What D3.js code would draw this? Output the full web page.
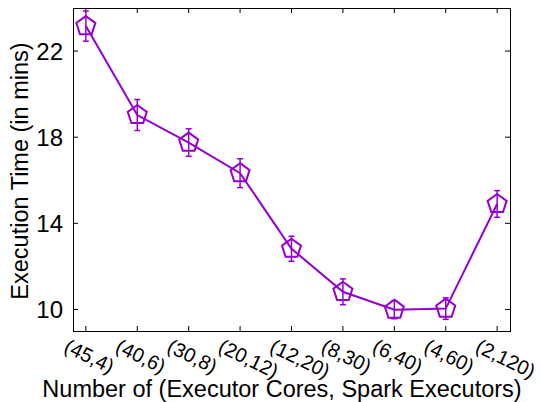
<!DOCTYPE html>
<html>
  <head>
    <meta charset="UTF-8" />
    <script src="https://cdn.jsdelivr.net/npm/d3@7"></script>
    <style>
      body { margin: 0; background: #fff; }
      text { font-family: "Liberation Sans", Arial, sans-serif; fill: #000; }
    </style>
  </head>
  <body>
    <script>
      // (executor cores, spark executors)
      var configs = ["(45,4)", "(40,6)", "(30,8)", "(20,12)", "(12,20)", "(8,30)", "(6,40)", "(4,60)", "(2,120)"];
      var execTime = [23.16, 19.03, 17.75, 16.33, 12.82, 10.82, 9.99, 10.04, 14.9];
      var errTime = [0.7, 0.72, 0.64, 0.67, 0.58, 0.6, 0.42, 0.5, 0.62];
      var yTicks = [10, 14, 18, 22];

      var W = 540, H = 402;
      var m = { left: 73, right: 30, top: 8, bottom: 71 };
      var color = "#9400D3";

      var svg = d3.select("body").append("svg").attr("width", W).attr("height", H);

      var x = d3.scaleLinear().domain([-0.25, 8.25]).range([m.left, W - m.right]);
      var y = d3.scaleLinear().domain([9, 24]).range([H - m.bottom, m.top]);

      var idx = configs.map(function (d, i) { return i; });

      // ticks, inward, mirrored
      var tl = 5;
      var g = svg.append("g").attr("stroke", "#000").attr("stroke-width", 1);
      idx.forEach(function (i) {
        g.append("line").attr("x1", x(i)).attr("x2", x(i)).attr("y1", y(9)).attr("y2", y(9) - tl);
        g.append("line").attr("x1", x(i)).attr("x2", x(i)).attr("y1", y(24)).attr("y2", y(24) + tl);
      });
      yTicks.forEach(function (v) {
        g.append("line").attr("x1", x(-0.25)).attr("x2", x(-0.25) + tl).attr("y1", y(v)).attr("y2", y(v));
        g.append("line").attr("x1", x(8.25)).attr("x2", x(8.25) - tl).attr("y1", y(v)).attr("y2", y(v));
      });

      svg.append("rect")
        .attr("x", x(-0.25) + 0.5).attr("y", y(24) + 0.5)
        .attr("width", x(8.25) - x(-0.25)).attr("height", y(9) - y(24))
        .attr("fill", "none").attr("stroke", "#000").attr("stroke-width", 1);

      // tick labels
      svg.selectAll(".ylab").data(yTicks).enter().append("text")
        .attr("x", m.left - 10).attr("y", function (d) { return y(d) + 8.5; })
        .attr("text-anchor", "end").attr("font-size", 24)
        .text(function (d) { return d; });

      svg.selectAll(".xlab").data(configs).enter().append("text")
        .attr("text-anchor", "start").attr("font-size", 20)
        .attr("transform", function (d, i) { return "translate(" + (x(i) - 23) + ",351) rotate(26)"; })
        .text(function (d) { return d; });

      svg.append("text")
        .attr("x", 282).attr("y", 397).attr("text-anchor", "middle").attr("font-size", 23.5)
        .text("Number of (Executor Cores, Spark Executors)");

      svg.append("text")
        .attr("transform", "translate(28,171) rotate(-90)")
        .attr("text-anchor", "middle").attr("font-size", 23.5)
        .text("Execution Time (in mins)");

      // error bars
      var eb = svg.append("g").attr("stroke", color).attr("stroke-width", 1.5);
      idx.forEach(function (i) {
        var lo = y(execTime[i] - errTime[i]), hi = y(execTime[i] + errTime[i]);
        eb.append("line").attr("x1", x(i)).attr("x2", x(i)).attr("y1", lo).attr("y2", hi);
        eb.append("line").attr("x1", x(i) - 3).attr("x2", x(i) + 3).attr("y1", lo).attr("y2", lo);
        eb.append("line").attr("x1", x(i) - 3).attr("x2", x(i) + 3).attr("y1", hi).attr("y2", hi);
      });

      var line = d3.line().x(function (d, i) { return x(i); }).y(function (d) { return y(d); });
      svg.append("path").datum(execTime).attr("d", line)
        .attr("fill", "none").attr("stroke", color).attr("stroke-width", 2);

      // open pentagons
      var r = 10;
      var pent = d3.range(5).map(function (k) {
        var a = -Math.PI / 2 + k * 2 * Math.PI / 5;
        return [r * Math.cos(a), r * Math.sin(a)];
      });
      svg.selectAll(".pt").data(execTime).enter().append("polygon")
        .attr("points", pent.map(function (p) { return p.join(","); }).join(" "))
        .attr("transform", function (d, i) { return "translate(" + x(i) + "," + y(d) + ")"; })
        .attr("fill", "none").attr("stroke", color).attr("stroke-width", 2);
    </script>
  </body>
</html>
